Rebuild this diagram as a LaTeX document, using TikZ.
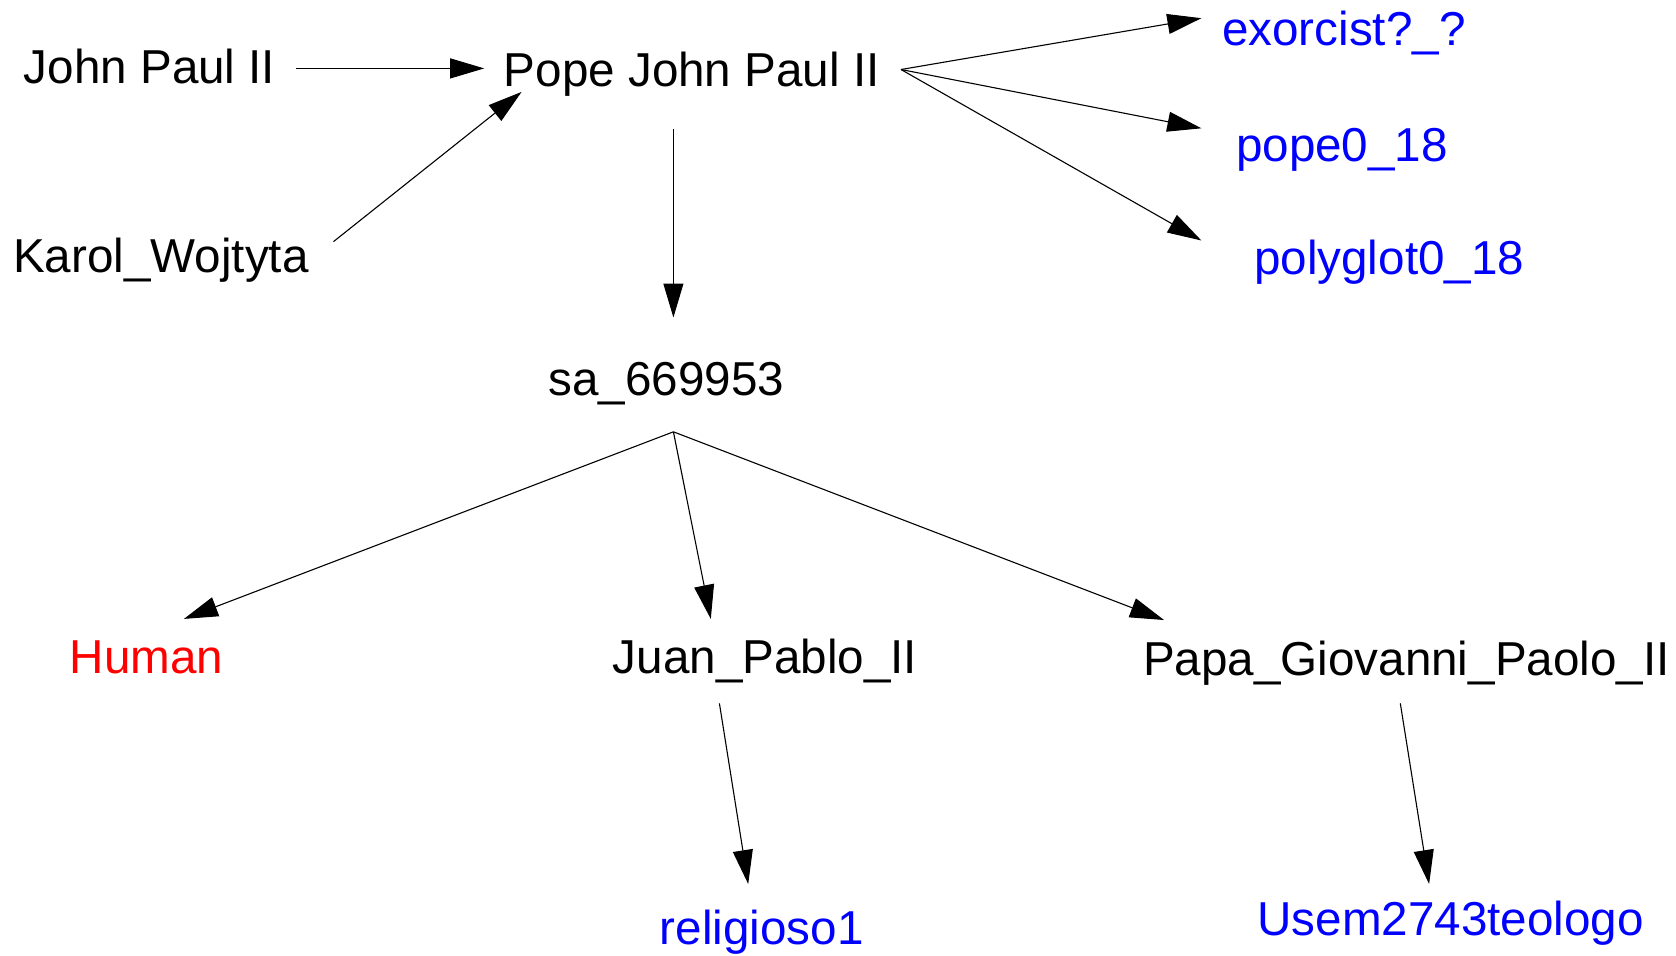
\documentclass[tikz,border=0pt]{standalone}
\usepackage{fontspec}
\setmainfont{Liberation Sans}
\usetikzlibrary{arrows.meta}
\definecolor{linkblue}{RGB}{0,0,255}
\definecolor{typered}{RGB}{255,0,0}
\tikzset{
  lbl/.style={anchor=base west, inner sep=0pt, font=\fontsize{23.8pt}{28pt}\selectfont},
  ext/.style={lbl, text=linkblue},
  cls/.style={lbl, text=typered},
  arr/.style={line width=0.55pt, -{Triangle[length=17pt,width=10pt]}}
}
\begin{document}
\begin{tikzpicture}[x=0.5pt,y=-0.5pt]
\useasboundingbox (0,0) rectangle (1676,955);
\fill[white] (0,0) rectangle (1676,955);

% labels
\node[lbl] (jp)    at (23.5,83.5)   {John Paul II};
\node[lbl] (pope)  at (503.5,86.7)  {Pope John Paul II};
\node[lbl] (karol) at (12.8,272.7)  {Karol\_Wojtyta};
\node[ext] (exo)   at (1221.8,45)   {exorcist?\_?};
\node[ext] (pope0) at (1235.7,161.5){pope0\_18};
\node[ext] (poly)  at (1253.8,274.8){polyglot0\_18};
\node[lbl] (sa)    at (548.3,395.6) {sa\_669953};
\node[cls] (human) at (69.5,673.5)  {Human};
\node[lbl] (juan)  at (612.5,673.5) {Juan\_Pablo\_II};
\node[lbl] (papa)  at (1142.7,675.7){Papa\_Giovanni\_Paolo\_II};
\node[ext] (rel)   at (659.5,944)   {religioso1};
\node[ext] (usem)  at (1257,935.4)  {Usem2743teologo};

% connectors
\draw[arr] ([shift={(272.5,-15.1)}]jp.base west) -- ([shift={(-19.3,-18.3)}]pope.base west);
\draw[arr] ([shift={(320.7,-31.1)}]karol.base west) -- ([shift={(18.1,5.2)}]pope.base west);
\draw[arr] ([shift={(397.5,-17.2)}]pope.base west) -- ([shift={(-20.4,-26.8)}]exo.base west);
\draw[arr] ([shift={(397.5,-17.2)}]pope.base west) -- ([shift={(-34.3,-33.2)}]pope0.base west);
\draw[arr] ([shift={(397.5,-17.2)}]pope.base west) -- ([shift={(-52.4,-34.3)}]poly.base west);
\draw[arr] ([shift={(169.9,42.6)}]pope.base west) -- ([shift={(125.1,-78.1)}]sa.base west);
\draw[arr] ([shift={(125.1,36.2)}]sa.base west) -- ([shift={(114.4,-54.6)}]human.base west);
\draw[arr] ([shift={(125.1,36.2)}]sa.base west) -- ([shift={(98.3,-54.6)}]juan.base west);
\draw[arr] ([shift={(125.1,36.2)}]sa.base west) -- ([shift={(21.3,-55.7)}]papa.base west);
\draw[arr] ([shift={(106.9,29.8)}]juan.base west) -- ([shift={(88.7,-60)}]rel.base west);
\draw[arr] ([shift={(257.6,27.6)}]papa.base west) -- ([shift={(172.1,-51.4)}]usem.base west);
\end{tikzpicture}
\end{document}
